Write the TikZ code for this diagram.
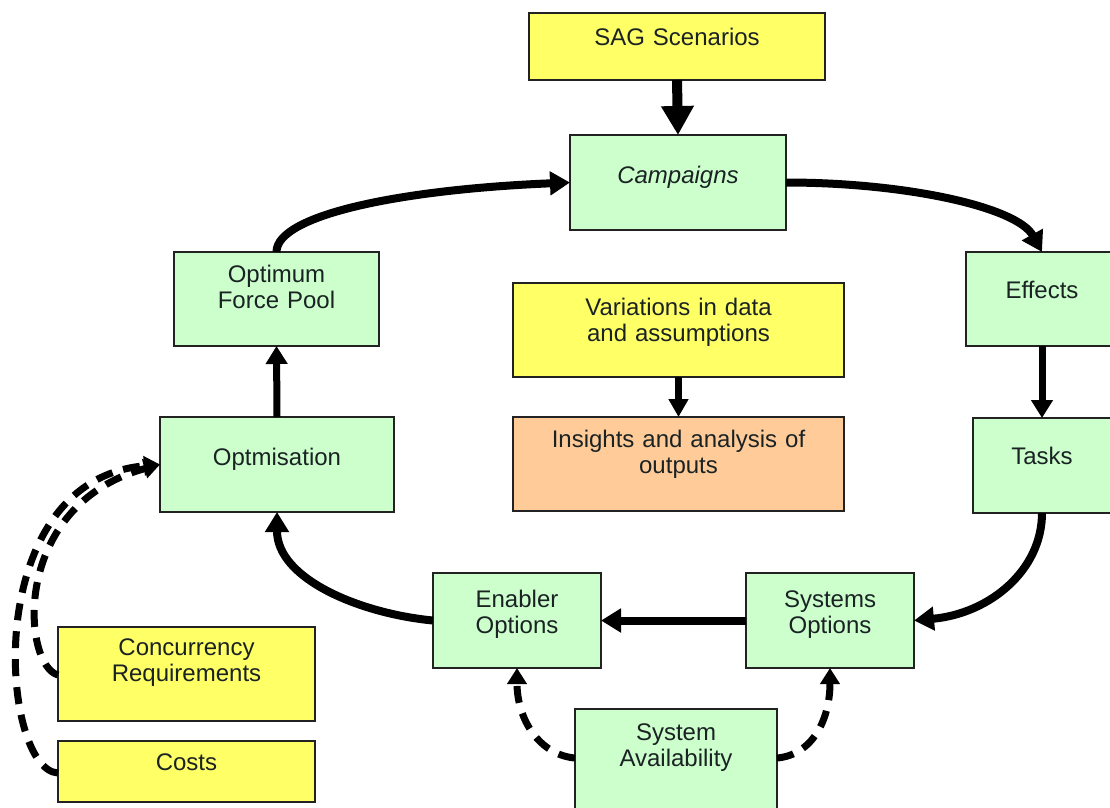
\documentclass[tikz,border=0pt]{standalone}
\usepackage{fontspec}
\setmainfont{Liberation Sans}
\usetikzlibrary{arrows.meta,calc}
\definecolor{gfill}{HTML}{CCFFCC}
\definecolor{yfill}{HTML}{FFFF66}
\definecolor{ofill}{HTML}{FFCC99}
\definecolor{edge}{HTML}{222222}
\definecolor{ink}{HTML}{1A2224}
\tikzset{
  box/.style={draw=edge,line width=2pt,anchor=north west,inner sep=0pt,outer sep=0pt},
  gbox/.style={box,fill=gfill},
  ybox/.style={box,fill=yfill},
  obox/.style={box,fill=ofill},
  txt/.style={anchor=base,inner sep=0pt,text=ink,align=center,text width=320pt,
    font=\fontsize{24}{26.5}\selectfont},
  arr/.style={line width=8pt,-{Triangle[length=20pt,width=23pt]}},
  varr/.style={line width=7pt,-{Triangle[length=18pt,width=21pt]}},
  darr/.style={line width=7pt,dash pattern=on 17pt off 11pt,-{Triangle[length=16pt,width=19pt]}},
}
\begin{document}
\begin{tikzpicture}[x=1pt,y=-1pt]
\clip (0,0) rectangle (1110,807);
\fill[white] (0,0) rectangle (1110,807);
% boxes
\node[ybox,minimum width=296pt,minimum height=67pt] (sag) at (529,13) {};
\node[gbox,minimum width=216pt,minimum height=95pt] (camp) at (570,135) {};
\node[gbox,minimum width=205pt,minimum height=94pt] (ofp) at (174,252) {};
\node[gbox,minimum width=152pt,minimum height=94pt] (eff) at (966,252) {};
\node[ybox,minimum width=331pt,minimum height=94pt] (var) at (513,283) {};
\node[obox,minimum width=331pt,minimum height=94pt] (ins) at (513,417) {};
\node[gbox,minimum width=234pt,minimum height=95pt] (opt) at (160,417) {};
\node[gbox,minimum width=138pt,minimum height=95pt] (tasks) at (973,418) {};
\node[gbox,minimum width=168pt,minimum height=95pt] (enab) at (433,573) {};
\node[gbox,minimum width=168pt,minimum height=95pt] (sys) at (746,573) {};
\node[gbox,minimum width=202pt,minimum height=106pt] (sa) at (575,709) {};
\node[ybox,minimum width=257pt,minimum height=94pt] (cr) at (58,627) {};
\node[ybox,minimum width=257pt,minimum height=61pt] (costs) at (58,741) {};
% texts
\node[txt] (sag-t) at ($(sag.north)+(0,32)$) {SAG Scenarios};
\node[txt] (camp-t) at ($(camp.north)+(0,48)$) {\itshape Campaigns};
\node[txt] (ofp-t) at ($(ofp.north)+(0,30)$) {Optimum\\Force Pool};
\node[txt] (eff-t) at ($(eff.north)+(0,46)$) {Effects};
\node[txt] (var-t) at ($(var.north)+(0,32)$) {Variations in data\\and assumptions};
\node[txt] (ins-t) at ($(ins.north)+(0,30)$) {Insights and analysis of\\outputs};
\node[txt] (opt-t) at ($(opt.north)+(0,48)$) {Optmisation};
\node[txt] (tasks-t) at ($(tasks.north)+(0,46)$) {Tasks};
\node[txt] (enab-t) at ($(enab.north)+(0,34)$) {Enabler\\Options};
\node[txt] (sys-t) at ($(sys.north)+(0,34)$) {Systems\\Options};
\node[txt] (sa-t) at ($(sa.north)+(0,31)$) {System\\Availability};
\node[txt] (cr-t) at ($(cr.north)+(0,28)$) {Concurrency\\Requirements};
\node[txt] (costs-t) at ($(costs.north)+(0,29)$) {Costs};
% solid connectors
\draw[line width=10pt,-{Triangle[length=29pt,width=31pt]}] (sag.south) -- (camp.north);
\draw[arr] (camp.east) .. controls +(120,0) and +(-25,-45) .. (eff.north);
\draw[varr] (eff.south) -- (eff.south |- tasks.north);
\draw[arr] (tasks.south) .. controls +(0,57) and +(76,-7) .. (sys.east);
\draw[arr] (sys.west) -- (enab.east);
\draw[arr] (enab.west) .. controls +(-73,-7) and +(0,67) .. (opt.south);
\draw[varr] (opt.north) -- (ofp.south);
\draw[arr] (ofp.north) .. controls +(0,-37) and +(-170,7) .. (camp.west);
\draw[line width=7pt,-{Triangle[length=18pt,width=19pt]}] (var.south) -- (ins.north);
% dashed connectors
\draw[darr] ($(costs.north west)+(0,32)$) .. controls (0,770) and (-22,480) .. (opt.west);
\draw[darr] ($(cr.north west)+(0,48)$) .. controls (22,665) and (10,505) .. (opt.west);
\draw[darr] ($(sa.north west)+(0,49)$) .. controls +(-35,-3) and +(0,52) .. (enab.south);
\draw[darr] ($(sa.north east)+(0,49)$) .. controls +(35,-3) and +(0,52) .. (sys.south);
\end{tikzpicture}
\end{document}
